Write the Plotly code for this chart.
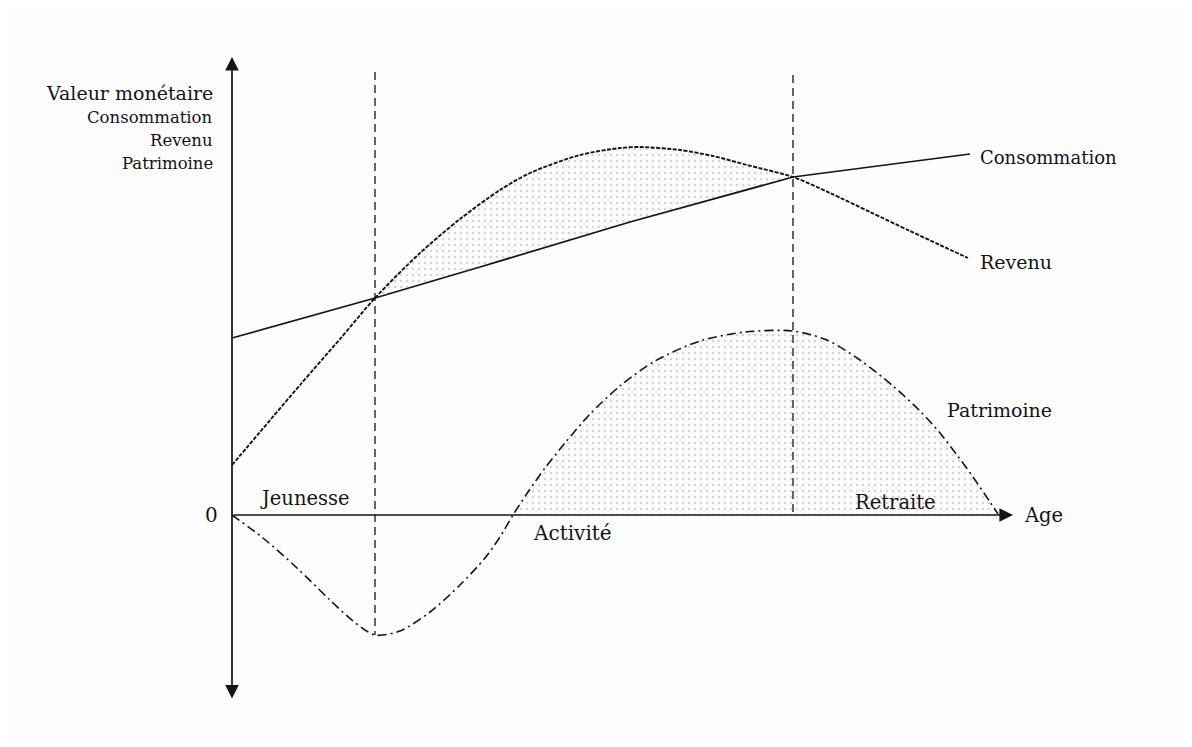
import plotly.graph_objects as go

# Cycle de vie (Modigliani) - valeurs schématiques
age_conso = [0, 14.3, 24.8, 39.8, 56.1, 73.8]
consommation = [17.7, 21.7, 24.8, 29.3, 33.8, 36.1]

age_revenu = [0, 2.8, 6.8, 10.8, 14.3, 18.8, 22.8, 26.8, 29.8, 34.8, 38.8, 40.8,
              44.8, 48.1, 51.5, 56.1, 59.8, 63.8, 67.8, 70.8, 73.6]
revenu = [5.0, 8.3, 13.0, 17.6, 21.7, 26.2, 29.6, 32.5, 34.2, 36.0, 36.7, 36.8,
          36.5, 35.9, 35.0, 33.8, 32.2, 30.3, 28.4, 27.0, 25.7]

age_patri = [0, 3.1, 6.5, 9.8, 12.1, 14.3, 16.8, 19.8, 22.8, 25.3, 26.8, 28.1,
             29.6, 31.3, 33.3, 35.8, 38.8, 42.3, 46.8, 51.3, 56.1, 59.5, 62.8,
             66.1, 68.8, 70.8, 72.5, 74.1, 75.8, 76.6]
patrimoine = [0, -2.3, -5.3, -8.5, -10.6, -12.0, -11.6, -9.7, -7.0, -4.3, -2.2, 0.0,
              2.3, 4.7, 7.2, 10.1, 12.9, 15.4, 17.4, 18.3, 18.4, 17.5, 15.5,
              12.9, 10.4, 8.2, 6.0, 3.8, 1.3, 0.1]

# limites des périodes : jeunesse / activité / retraite
limites = [14.3, 56.1]

ink = "#141414"
serif = "DejaVu Serif"
stipple = dict(shape=".", size=6, solidity=0.16, fgcolor="#b0b0b0", bgcolor="rgba(0,0,0,0)")

fig = go.Figure()

# zone d'épargne : revenu au-dessus de la consommation pendant l'activité
i0, i1 = age_revenu.index(limites[0]), age_revenu.index(limites[1])
j0, j1 = age_conso.index(limites[0]), age_conso.index(limites[1])
poly_x = age_revenu[i0:i1 + 1] + age_conso[j0:j1 + 1][::-1]
poly_y = revenu[i0:i1 + 1] + consommation[j0:j1 + 1][::-1]
fig.add_trace(go.Scatter(x=poly_x, y=poly_y, mode="lines", fill="toself",
                         line=dict(width=0), fillcolor="rgba(0,0,0,0)",
                         fillpattern=stipple, hoverinfo="skip"))

# patrimoine positif
k = patrimoine.index(0.0, 1)
fig.add_trace(go.Scatter(x=age_patri[k:], y=patrimoine[k:], mode="lines",
                         fill="tozeroy", line=dict(width=0, shape="spline", smoothing=0.8),
                         fillcolor="rgba(0,0,0,0)", fillpattern=stipple,
                         hoverinfo="skip"))

fig.add_trace(go.Scatter(x=age_conso, y=consommation, mode="lines",
                         line=dict(color=ink, width=1.7), name="Consommation"))
fig.add_trace(go.Scatter(x=age_revenu, y=revenu, mode="lines",
                         line=dict(color=ink, width=1.9, dash="4px,1.5px",
                                   shape="spline", smoothing=0.8),
                         name="Revenu"))
fig.add_trace(go.Scatter(x=age_patri, y=patrimoine, mode="lines",
                         line=dict(color=ink, width=1.6, dash="9px,4px,2px,4px",
                                   shape="spline", smoothing=0.8),
                         name="Patrimoine"))

# lignes verticales pointillées
fig.add_shape(type="line", x0=limites[0], x1=limites[0], y0=44.3, y1=min(patrimoine),
              line=dict(color=ink, width=1.3, dash="8px,5px"))
fig.add_shape(type="line", x0=limites[1], x1=limites[1], y0=44.0, y1=0,
              line=dict(color=ink, width=1.3, dash="8px,5px"))

# axes avec flèches
fig.add_annotation(x=0, y=45.8, ax=0, ay=-18.5, xref="x", yref="y", axref="x", ayref="y",
                   text="", showarrow=True, arrowhead=2, startarrowhead=2,
                   arrowside="end+start", arrowsize=1.6, startarrowsize=1.6,
                   arrowwidth=1.7, arrowcolor=ink)
fig.add_annotation(x=78.1, y=0, ax=0, ay=0, xref="x", yref="y", axref="x", ayref="y",
                   text="", showarrow=True, arrowhead=2, arrowsize=1.6,
                   arrowwidth=1.7, arrowcolor=ink)

labels = [
    ("Valeur monétaire", -1.7, 42.2, "right", 19),
    ("Consommation", -1.7, 39.8, "right", 16.5),
    ("Revenu", -1.7, 37.5, "right", 16.5),
    ("Patrimoine", -1.7, 35.2, "right", 16.5),
    ("Consommation", 74.6, 35.8, "left", 18),
    ("Revenu", 74.6, 25.3, "left", 19),
    ("Patrimoine", 71.3, 10.5, "left", 19),
    ("Jeunesse", 7.3, 1.7, "center", 19.5),
    ("Activité", 34.0, -1.8, "center", 20),
    ("Retraite", 66.3, 1.3, "center", 19.5),
    ("Age", 79.0, 0, "left", 19.5),
    ("0", -1.2, 0, "right", 20),
]
for txt, x, y, anchor, size in labels:
    fig.add_annotation(x=x, y=y, text=txt, showarrow=False, xanchor=anchor,
                       yanchor="middle", font=dict(family=serif, size=size, color=ink))

# la page HTML garde une marge de 8 px autour de la figure
fig.update_xaxes(range=[-22.4, 95.2], visible=False)
fig.update_yaxes(range=[-22.4, 50.7], visible=False)
fig.update_layout(width=1176, height=731, margin=dict(l=0, r=0, t=0, b=0),
                  showlegend=False, plot_bgcolor="#fcfcfd", paper_bgcolor="#fcfcfd")

fig.write_html("out.html")
